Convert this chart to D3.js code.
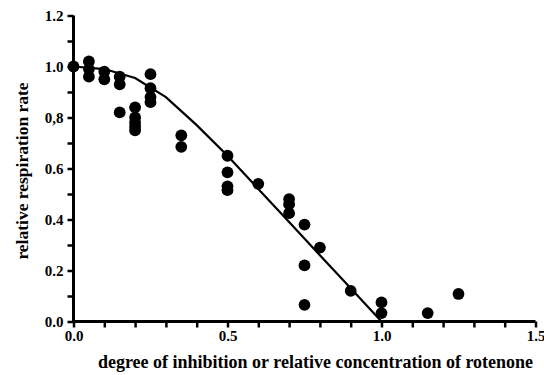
<!DOCTYPE html>
<html>
<head>
<meta charset="utf-8">
<script src="https://cdn.jsdelivr.net/npm/d3@7"></script>
<style>
  body { margin: 0; background: #fff; }
  svg { display: block; }
  .axis text { font-family: "Liberation Serif", "Times New Roman", serif; font-weight: bold; font-size: 15px; fill: #000; }
  .title { font-family: "Liberation Serif", "Times New Roman", serif; font-weight: bold; fill: #000; }
</style>
</head>
<body>
<div id="chart"></div>
<script>
// ---- data ----
const inhibition = [0, 0.05, 0.05, 0.05, 0.1, 0.1, 0.15, 0.15, 0.15,
  0.2, 0.2, 0.2, 0.2, 0.2, 0.25, 0.25, 0.25, 0.25, 0.35, 0.35,
  0.5, 0.5, 0.5, 0.5, 0.6, 0.7, 0.7, 0.7, 0.75, 0.75, 0.75,
  0.8, 0.9, 1.0, 1.0, 1.15, 1.25];
const respiration = [1.0, 1.02, 0.99, 0.96, 0.98, 0.95, 0.96, 0.93, 0.82,
  0.84, 0.80, 0.78, 0.765, 0.75, 0.97, 0.915, 0.88, 0.86, 0.73, 0.685,
  0.65, 0.585, 0.53, 0.515, 0.54, 0.48, 0.46, 0.425, 0.38, 0.22, 0.065,
  0.29, 0.12, 0.075, 0.033, 0.033, 0.108];

// fitted curve
const curveX = [0, 0.1, 0.2, 0.3, 0.4, 0.5, 0.6, 0.7, 0.8, 0.9, 1.0];
const curveY = [1.0, 0.99, 0.955, 0.88, 0.77, 0.65, 0.52, 0.39, 0.26, 0.13, 0.0];

const xTicks = [0, 0.5, 1.0, 1.5];
const yTickLabels = ["0.0", "0.2", "0.4", "0.6", "0,8", "1.0", "1.2"];

// ---- layout ----
const svgWidth = 544;
const svgHeight = 375;
const margin = { top: 15.5, right: 9, bottom: 53.5, left: 73.5 };
const width = svgWidth - margin.left - margin.right;
const height = svgHeight - margin.top - margin.bottom;

const svg = d3.select("#chart")
  .append("svg")
  .attr("width", svgWidth)
  .attr("height", svgHeight);

const g = svg.append("g")
  .attr("transform", `translate(${margin.left},${margin.top})`);

const x = d3.scaleLinear().domain([0, 1.5]).range([0, 462]);
const y = d3.scaleLinear().domain([0, 1.2]).range([height, 0]);

// x axis: minor ticks every 0.1, labels at 0.5
const xAxis = g.append("g")
  .attr("class", "axis")
  .attr("transform", `translate(0,${height})`)
  .call(d3.axisBottom(x)
    .tickValues(d3.range(0, 16).map(i => i / 10))
    .tickSize(6)
    .tickFormat(d => xTicks.some(t => Math.abs(t - d) < 1e-9) ? d.toFixed(1) : ""));

xAxis.select(".domain").attr("stroke-width", 3).attr("d", `M0,0H${x(1.5)}`);
xAxis.selectAll(".tick line").attr("stroke-width", 2.5);

// y axis: minor ticks every 0.1, labels every 0.2
const yAxis = g.append("g")
  .attr("class", "axis")
  .call(d3.axisLeft(y)
    .tickValues(d3.range(0, 13).map(i => i / 10))
    .tickSize(6)
    .tickFormat((d, i) => i % 2 === 0 ? yTickLabels[i / 2] : ""));

yAxis.select(".domain").attr("stroke-width", 3).attr("d", `M0,${height}V0`);
yAxis.selectAll(".tick line").attr("stroke-width", 2.5);
yAxis.selectAll(".tick text").attr("x", -10);

// curve
const line = d3.line()
  .x((d, i) => x(curveX[i]))
  .y(d => y(d));

g.append("path")
  .datum(curveY)
  .attr("fill", "none")
  .attr("stroke", "#000")
  .attr("stroke-width", 2.2)
  .attr("d", line);

// points
g.selectAll(".dot")
  .data(inhibition)
  .enter()
  .append("circle")
  .attr("class", "dot")
  .attr("cx", d => x(d))
  .attr("cy", (d, i) => y(respiration[i]))
  .attr("r", 5.9)
  .attr("fill", "#000");

// axis titles
svg.append("text")
  .attr("class", "title")
  .attr("x", 315.5)
  .attr("y", 368)
  .attr("font-size", 18)
  .attr("text-anchor", "middle")
  .text("degree of inhibition or relative concentration of rotenone");

svg.append("text")
  .attr("class", "title")
  .attr("transform", "translate(28,171) rotate(-90)")
  .attr("font-size", 17.5)
  .attr("text-anchor", "middle")
  .text("relative respiration rate");
</script>
</body>
</html>
